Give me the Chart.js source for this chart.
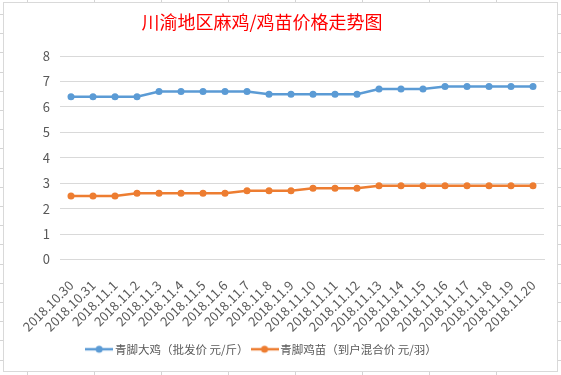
<!DOCTYPE html>
<html>
<head>
<meta charset="utf-8">
<script src="https://cdn.jsdelivr.net/npm/chart.js@4"></script>
<style>
  html, body { margin: 0; padding: 0; }
  body {
    width: 561px; height: 375px; overflow: hidden; position: relative;
    background-color: #fff;
    background-image:
      repeating-linear-gradient(90deg, transparent 0 27px, #d4d4d4 27px 28px, transparent 28px 67px),
      repeating-linear-gradient(180deg, transparent 0 14px, #d4d4d4 14px 15px, transparent 15px 19.2px);
  }
  #frame {
    position: absolute; left: 3px; top: 2px; width: 553px; height: 368px;
    border: 1px solid #d9d9d9; background: #fff;
  }
  canvas { display: block; }
</style>
</head>
<body>
<div id="frame"><canvas id="chart" width="553" height="368"></canvas></div>
<script>
// 川渝地区麻鸡/鸡苗价格走势图

const chartTitle = "川渝地区麻鸡/鸡苗价格走势图";
const dates = [
  "2018.10.30", "2018.10.31", "2018.11.1", "2018.11.2", "2018.11.3", "2018.11.4",
  "2018.11.5", "2018.11.6", "2018.11.7", "2018.11.8", "2018.11.9", "2018.11.10",
  "2018.11.11", "2018.11.12", "2018.11.13", "2018.11.14", "2018.11.15", "2018.11.16",
  "2018.11.17", "2018.11.18", "2018.11.19", "2018.11.20",
];
const bigChicken = [
  6.4, 6.4, 6.4, 6.4, 6.6, 6.6, 6.6, 6.6, 6.6, 6.5, 6.5,
  6.5, 6.5, 6.5, 6.7, 6.7, 6.7, 6.8, 6.8, 6.8, 6.8, 6.8,
];
const chickSeedling = [
  2.5, 2.5, 2.5, 2.6, 2.6, 2.6, 2.6, 2.6, 2.7, 2.7, 2.7,
  2.8, 2.8, 2.8, 2.9, 2.9, 2.9, 2.9, 2.9, 2.9, 2.9, 2.9,
];
const seriesNames = ["青脚大鸡（批发价 元/斤）", "青脚鸡苗（到户混合价 元/羽）"];
const seriesColors = ["#5b9bd5", "#ed7d31"];
const yTicks = [0, 1, 2, 3, 4, 5, 6, 7, 8];

const FONT = '"Noto Sans CJK SC", "Noto Sans", sans-serif';
const TEXT = "#595959";

// legend marker: short line with a dot, like the spreadsheet one
function legendMark(color) {
  const c = document.createElement("canvas");
  c.width = 28;
  c.height = 10;
  const g = c.getContext("2d");
  g.strokeStyle = color;
  g.lineWidth = 2.5;
  g.beginPath();
  g.moveTo(0, 5);
  g.lineTo(28, 5);
  g.stroke();
  g.fillStyle = color;
  g.beginPath();
  g.arc(14, 5, 3.5, 0, Math.PI * 2);
  g.fill();
  return c;
}

// title and legend sit a little left of the centre in the spreadsheet
const titlePlugin = {
  id: "sheetTitle",
  afterLayout(chart) {
    if (chart.legend) {
      chart.legend.left -= 11;
      chart.legend.right -= 11;
    }
  },
  afterDraw(chart) {
    const ctx = chart.ctx;
    ctx.save();
    ctx.font = "18px " + FONT;
    ctx.fillStyle = "#ff0000";
    ctx.textAlign = "center";
    ctx.textBaseline = "middle";
    ctx.fillText(chartTitle, 258, 19);
    ctx.restore();
  },
};

new Chart(document.getElementById("chart"), {
  type: "line",
  data: {
    labels: dates,
    datasets: [
      { label: seriesNames[0], data: bigChicken },
      { label: seriesNames[1], data: chickSeedling },
    ].map((d, i) => ({
      ...d,
      borderColor: seriesColors[i],
      backgroundColor: seriesColors[i],
      borderWidth: 2.5,
      pointRadius: 3.5,
      pointHoverRadius: 4,
      pointBorderWidth: 0,
      tension: 0,
    })),
  },
  plugins: [titlePlugin],
  options: {
    responsive: false,
    animation: false,
    layout: { padding: { left: 0, right: 13, top: 53, bottom: 6 } },
    plugins: {
      title: { display: false },
      legend: {
        position: "bottom",
        labels: {
          color: TEXT,
          font: { family: FONT, size: 11.5 },
          usePointStyle: true,
          pointStyleWidth: 20,
          boxHeight: 10,
          padding: 6,
          generateLabels: (chart) =>
            chart.data.datasets.map((ds, i) => ({
              text: ds.label,
              fontColor: TEXT,
              pointStyle: legendMark(seriesColors[i]),
              datasetIndex: i,
              hidden: false,
              lineWidth: 0,
            })),
        },
      },
      tooltip: { enabled: false },
    },
    scales: {
      x: {
        offset: true,
        grid: { display: false },
        border: { color: "#d9d9d9" },
        afterFit: (s) => { s.height = 78; },
        ticks: {
          color: TEXT,
          font: { family: FONT, size: 13 },
          minRotation: 45,
          maxRotation: 45,
          autoSkip: false,
          padding: 10,
        },
      },
      y: {
        min: 0,
        max: 8,
        afterBuildTicks: (s) => { s.ticks = yTicks.map((v) => ({ value: v })); },
        afterFit: (s) => { s.width = 56; },
        grid: { color: "#d9d9d9", drawTicks: false },
        border: { display: false },
        ticks: {
          color: TEXT,
          font: { family: FONT, size: 13 },
          padding: 10,
        },
      },
    },
  },
});
</script>
</body>
</html>
